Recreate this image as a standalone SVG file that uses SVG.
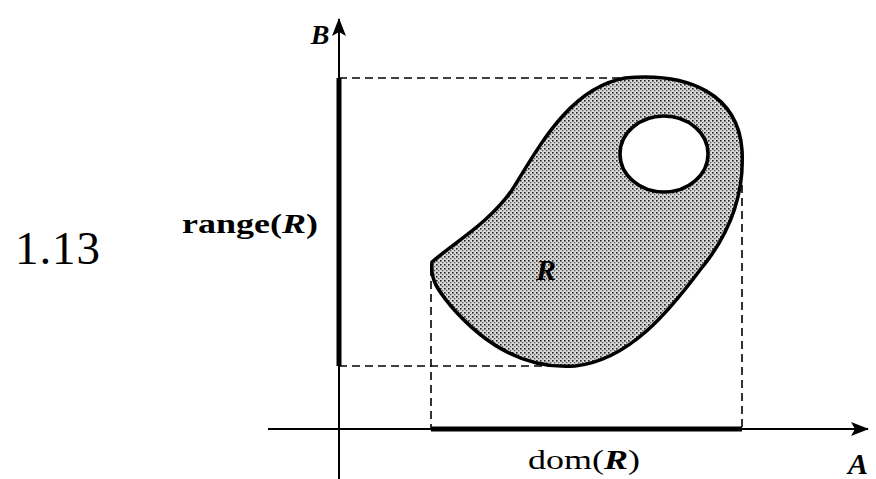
<svg xmlns="http://www.w3.org/2000/svg" width="876" height="479" viewBox="0 0 876 479">
<style>
.ax{stroke:#000;stroke-width:2;fill:none}
.thick{stroke:#000;stroke-width:5;fill:none}
.dash{stroke:#000;stroke-width:1.6;stroke-dasharray:8 5;fill:none}
.lbl{font-family:"Liberation Serif",serif;fill:#000}
.var{font-family:"Liberation Serif",serif;font-weight:bold;font-style:italic;fill:#000}
</style>
<defs>
<pattern id="stip" width="4" height="4" patternUnits="userSpaceOnUse">
<rect width="4" height="4" fill="#d9d9d9"/>
<rect x="0" y="0" width="1.6" height="1.6" fill="#222"/>
<rect x="2" y="2" width="1.3" height="1.3" fill="#555"/>
</pattern>
<marker id="ah" markerWidth="18" markerHeight="14" refX="17" refY="7" orient="auto" markerUnits="userSpaceOnUse">
<path d="M0,0 L18,7 L0,14 L4,7 Z" fill="#000"/>
</marker>
</defs>
<g id="connectors">
<line class="dash" x1="339" y1="78" x2="625" y2="78"/>
<line class="dash" x1="339" y1="366" x2="575" y2="366"/>
<line class="dash" x1="431" y1="268" x2="431" y2="428"/>
<line class="dash" x1="742" y1="185" x2="742" y2="428"/>
<line class="ax" x1="339" y1="479" x2="339" y2="19" marker-end="url(#ah)"/>
<line class="ax" x1="268" y1="429" x2="868" y2="429" marker-end="url(#ah)"/>
<line class="thick" x1="339" y1="78" x2="339" y2="366"/>
<line class="thick" x1="431" y1="429" x2="742" y2="429"/>
</g>
<g id="relation">
<path d="M432,262 C455,242 490,222 512,190 C540,145 570,88 625,78 C690,72 738,95 742,150 C745,200 725,240 700,270 C670,310 630,360 575,366 C520,370 480,340 450,305 C438,290 430,280 432,262 Z" fill="url(#stip)" stroke="#000" stroke-width="3.5"/>
<ellipse cx="664" cy="154" rx="44" ry="38" fill="#fff" stroke="#000" stroke-width="3.5"/>
<text class="var" x="546" y="280" font-size="30" text-anchor="middle">R</text>
</g>
<g id="labels">
<text class="var" x="320" y="44" font-size="28" text-anchor="middle">B</text>
<text class="var" x="858" y="474" font-size="30" text-anchor="middle">A</text>
<text class="lbl" x="182" y="233" font-size="27" font-weight="bold" textLength="136" lengthAdjust="spacingAndGlyphs">range(<tspan font-style="italic">R</tspan>)</text>
<text class="lbl" x="528" y="469" font-size="28" textLength="112" lengthAdjust="spacingAndGlyphs">dom(<tspan font-style="italic" font-weight="bold">R</tspan>)</text>
<text class="lbl" x="15" y="264" font-size="47" textLength="85" lengthAdjust="spacing">1.13</text>
</g>
</svg>
